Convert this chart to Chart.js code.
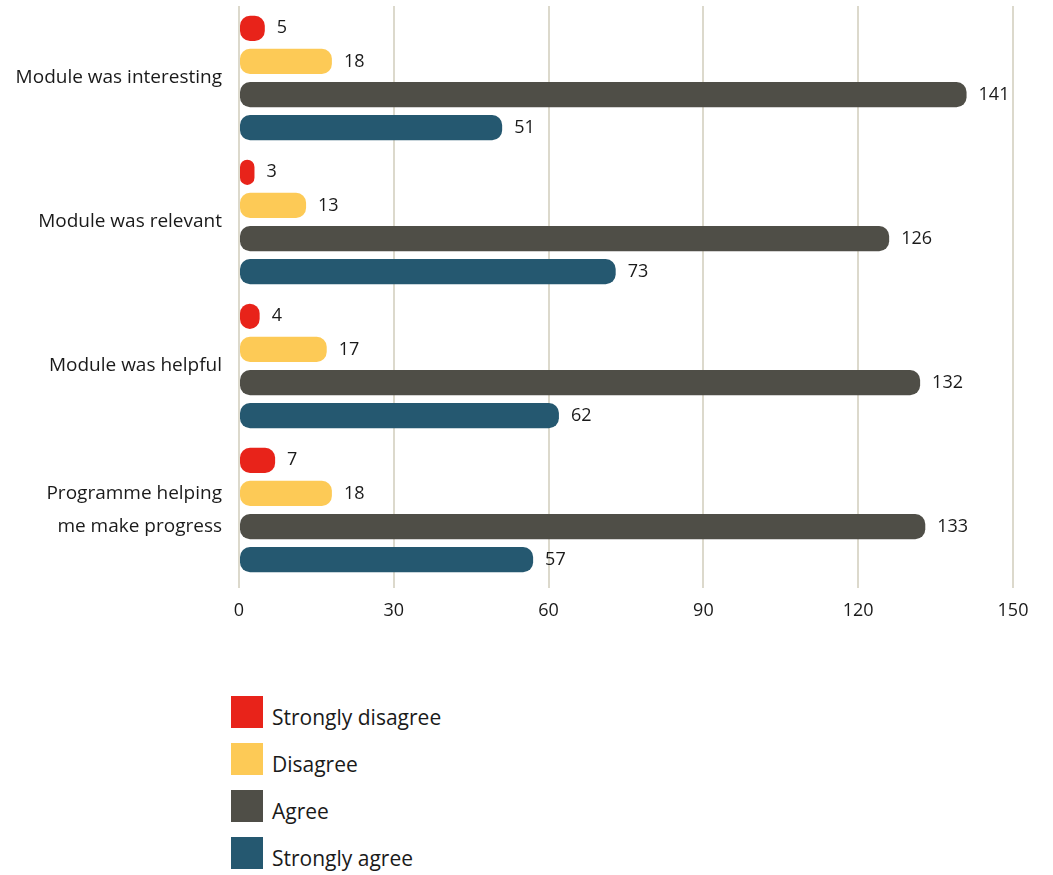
<!DOCTYPE html>
<html>
<head>
<meta charset="utf-8">
<script src="https://cdn.jsdelivr.net/npm/chart.js@4/dist/chart.umd.min.js"></script>
<style>
  body { margin: 0; background: #fff; font-family: "Open Sans", sans-serif; }
  #wrap { position: relative; width: 1053px; height: 640px; }
  #legend { position: absolute; left: 231px; top: 696px; }
  .item { position: relative; height: 47px; }
  .box { position: absolute; left: 0; top: 0; width: 32px; height: 32px; }
  .lab { position: absolute; left: 41px; top: 7px; font-size: 21px; color: #1a1a1a; white-space: nowrap; }
</style>
</head>
<body>
<div id="wrap"><canvas id="chart"></canvas></div>
<div id="legend"></div>
<script>
var categories = ['Module was interesting', 'Module was relevant', 'Module was helpful', ['Programme helping', 'me make progress']];
var seriesNames = ['Strongly disagree', 'Disagree', 'Agree', 'Strongly agree'];
var stronglyDisagree = [5, 3, 4, 7];
var disagree = [18, 13, 17, 18];
var agree = [141, 126, 132, 133];
var stronglyAgree = [51, 73, 62, 57];
var xTicks = [0, 30, 60, 90, 120, 150];

var colors = ['#e8231a', '#fdca56', '#4f4e47', '#255870'];
var values = [stronglyDisagree, disagree, agree, stronglyAgree];

var datasets = seriesNames.map(function(name, i) {
  return {
    label: name,
    data: values[i],
    backgroundColor: colors[i],
    borderRadius: 10,
    borderSkipped: false,
    categoryPercentage: 0.92,
    barPercentage: 0.76
  };
});

// values printed just after each bar end
var valueLabels = {
  id: 'valueLabels',
  afterDatasetsDraw: function(chart) {
    var ctx = chart.ctx;
    ctx.save();
    ctx.font = '18px "Open Sans", sans-serif';
    ctx.fillStyle = '#1a1a1a';
    ctx.textAlign = 'left';
    ctx.textBaseline = 'middle';
    chart.data.datasets.forEach(function(ds, i) {
      chart.getDatasetMeta(i).data.forEach(function(bar, j) {
        ctx.fillText(String(ds.data[j]), bar.x + 12, bar.y);
      });
    });
    ctx.restore();
  }
};

new Chart(document.getElementById('chart'), {
  type: 'bar',
  data: { labels: categories, datasets: datasets },
  plugins: [valueLabels],
  options: {
    indexAxis: 'y',
    responsive: true,
    maintainAspectRatio: false,
    animation: false,
    layout: { padding: { left: 0, right: 40, top: 6, bottom: 0 } },
    plugins: { legend: { display: false }, tooltip: { enabled: false } },
    scales: {
      x: {
        min: 0,
        max: 150,
        afterBuildTicks: function(scale) {
          scale.ticks = xTicks.map(function(v) { return { value: v }; });
        },
        afterFit: function(scale) { scale.height = 58; },
        grid: { color: '#dcd9cc', lineWidth: 2, tickLength: 6, drawTicks: true },
        border: { display: false },
        ticks: { color: '#1a1a1a', padding: 12, font: { family: 'Open Sans', size: 18 } }
      },
      y: {
        afterFit: function(scale) {
          scale.width = 239;
          scale.paddingTop = 0;
          scale.paddingBottom = 0;
        },
        grid: { display: false, drawTicks: false },
        border: { display: false },
        ticks: { color: '#1a1a1a', padding: 17, font: { family: 'Open Sans', size: 19, lineHeight: 1.7 } }
      }
    }
  }
});

var legend = document.getElementById('legend');
seriesNames.forEach(function(name, i) {
  var item = document.createElement('div');
  item.className = 'item';
  item.innerHTML = '<div class="box" style="background:' + colors[i] + '"></div><div class="lab">' + name + '</div>';
  legend.appendChild(item);
});
</script>
</body>
</html>
